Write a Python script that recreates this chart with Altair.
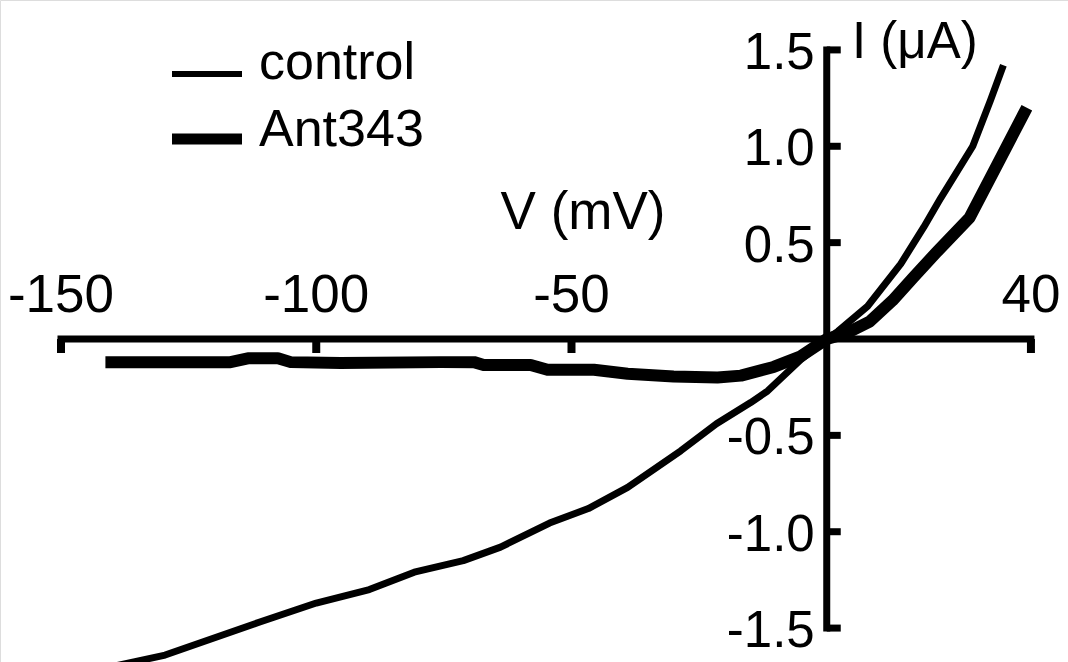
import altair as alt
import pandas as pd

# ---- data ----
series_names = ["control", "Ant343"]

control_v = [-140.0, -129.6, -111.2, -100.0, -89.6, -80.8, -71.2, -63.9, -54.3, -46.7,
             -39.0, -28.6, -21.6, -14.9, -11.6, -5.0, 0.0, 2.2, 8.0, 14.5, 19.0, 22.3,
             28.6, 32.1, 34.6]
control_i = [-1.70, -1.64, -1.47, -1.37, -1.30, -1.21, -1.15, -1.08, -0.955, -0.88,
             -0.77, -0.58, -0.44, -0.33, -0.27, -0.105, 0.0, 0.04, 0.17, 0.39, 0.58, 0.73,
             1.00, 1.24, 1.42]

ant_v = [-141.3, -116.8, -113.4, -107.5, -105.0, -95.2, -75.6, -69.1, -67.2, -58.0,
         -54.7, -45.6, -39.0, -30.0, -21.4, -16.8, -10.4, -5.1, 0.0, 3.9, 8.4, 12.9,
         17.0, 21.5, 28.0, 33.9, 39.2]
ant_i = [-0.12, -0.12, -0.10, -0.10, -0.12, -0.125, -0.12, -0.12, -0.135, -0.135,
         -0.16, -0.16, -0.18, -0.195, -0.20, -0.19, -0.145, -0.09, 0.0, 0.03, 0.09, 0.20,
         0.32, 0.45, 0.63, 0.93, 1.20]

x_tick_values = [-150, -100, -50, 40]
x_tick_labels = ["-150", "-100", "-50", "40"]
y_tick_values = [1.5, 1.0, 0.5, -0.5, -1.0, -1.5]
y_tick_labels = ["1.5", "1.0", "0.5", "-0.5", "-1.0", "-1.5"]
x_title = "V (mV)"
y_title = "I (\u03bcA)"

# ---- layout / style ----
W, H = 1068, 662
FONT = "Liberation Sans"
X_DOMAIN = [-161.95, 47.26]
Y_DOMAIN = [-1.676, 1.759]
line_widths = [7, 12]

xs = alt.Scale(domain=X_DOMAIN, nice=False, zero=False)
ys = alt.Scale(domain=Y_DOMAIN, nice=False, zero=False)

rows = []
for name, vv, ii in ((series_names[0], control_v, control_i), (series_names[1], ant_v, ant_i)):
    for k, (v, i) in enumerate(zip(vv, ii)):
        rows.append({"series": name, "V": v, "I": i, "order": k})
df = pd.DataFrame(rows)

lines = alt.Chart(df).mark_line(color="black", strokeCap="butt", strokeJoin="round").encode(
    x=alt.X("V:Q", scale=xs, axis=None),
    y=alt.Y("I:Q", scale=ys, axis=None),
    detail="series:N",
    order="order:Q",
    strokeWidth=alt.StrokeWidth("series:N", scale=alt.Scale(domain=series_names, range=line_widths), legend=None),
)

# axis lines
xaxis_df = pd.DataFrame({"x": [min(x_tick_values)], "x2": [max(x_tick_values)], "y": [0.0]})
yaxis_df = pd.DataFrame({"x": [0.0], "y": [min(y_tick_values)], "y2": [max(y_tick_values)]})

x_axis_line = alt.Chart(xaxis_df).mark_rule(color="black", strokeWidth=7, strokeCap="square").encode(
    x=alt.X("x:Q", scale=xs, axis=None), x2="x2:Q", y=alt.Y("y:Q", scale=ys, axis=None)
)
y_axis_line = alt.Chart(yaxis_df).mark_rule(color="black", strokeWidth=7, strokeCap="square").encode(
    x=alt.X("x:Q", scale=xs, axis=None), y=alt.Y("y:Q", scale=ys, axis=None), y2="y2:Q"
)

xt_df = pd.DataFrame({"v": x_tick_values, "lab": x_tick_labels, "zero": 0.0})
yt_df = pd.DataFrame({"i": y_tick_values, "lab": y_tick_labels, "zero": 0.0})

x_ticks = alt.Chart(xt_df).mark_rule(color="black", strokeWidth=8, y2Offset=14).encode(
    x=alt.X("v:Q", scale=xs, axis=None), y=alt.Y("zero:Q", scale=ys, axis=None), y2="zero:Q"
)
y_ticks = alt.Chart(yt_df).mark_rule(color="black", strokeWidth=7, x2Offset=14).encode(
    y=alt.Y("i:Q", scale=ys, axis=None), x=alt.X("zero:Q", scale=xs, axis=None), x2="zero:Q"
)

x_labels = alt.Chart(xt_df).mark_text(font=FONT, fontSize=53, align="center", baseline="alphabetic",
                                      yOffset=-27, color="black").encode(
    x=alt.X("v:Q", scale=xs, axis=None), y=alt.Y("zero:Q", scale=ys, axis=None), text="lab:N"
)
y_labels = alt.Chart(yt_df).mark_text(font=FONT, fontSize=51, align="right", baseline="alphabetic",
                                      xOffset=-12, yOffset=19, color="black").encode(
    y=alt.Y("i:Q", scale=ys, axis=None), x=alt.X("zero:Q", scale=xs, axis=None), text="lab:N"
)

title_df = pd.DataFrame({"xt": [x_title], "yt": [y_title]})
x_title_mark = alt.Chart(title_df).mark_text(font=FONT, fontSize=53, align="center", baseline="alphabetic",
                                             color="black").encode(
    x=alt.value(583), y=alt.value(229), text="xt:N"
)
y_title_mark = alt.Chart(title_df).mark_text(font=FONT, fontSize=51, align="left", baseline="alphabetic",
                                             color="black").encode(
    x=alt.value(852), y=alt.value(58), text="yt:N"
)

# legend (drawn by hand)
legend_layers = []
leg_line_y = [74, 139]
leg_text_y = [79, 146]
for k, name in enumerate(series_names):
    ldf = pd.DataFrame({"s": [name]})
    legend_layers.append(
        alt.Chart(ldf).mark_rule(color="black", strokeWidth=line_widths[k] - 1).encode(
            x=alt.value(172), x2=alt.value(242), y=alt.value(leg_line_y[k])
        )
    )
    legend_layers.append(
        alt.Chart(ldf).mark_text(font=FONT, fontSize=52, align="left", baseline="alphabetic",
                                 color="black").encode(
            x=alt.value(259), y=alt.value(leg_text_y[k]), text="s:N"
        )
    )

chart = alt.layer(
    x_axis_line, y_axis_line, x_ticks, y_ticks, x_labels, y_labels,
    x_title_mark, y_title_mark, lines, *legend_layers
).properties(
    width=W, height=H, padding=0, autosize=alt.AutoSizeParams(type="none")
).configure_view(stroke=None).configure(background="white")

chart.save("out.html", embed_options={"renderer": "svg", "actions": False})
